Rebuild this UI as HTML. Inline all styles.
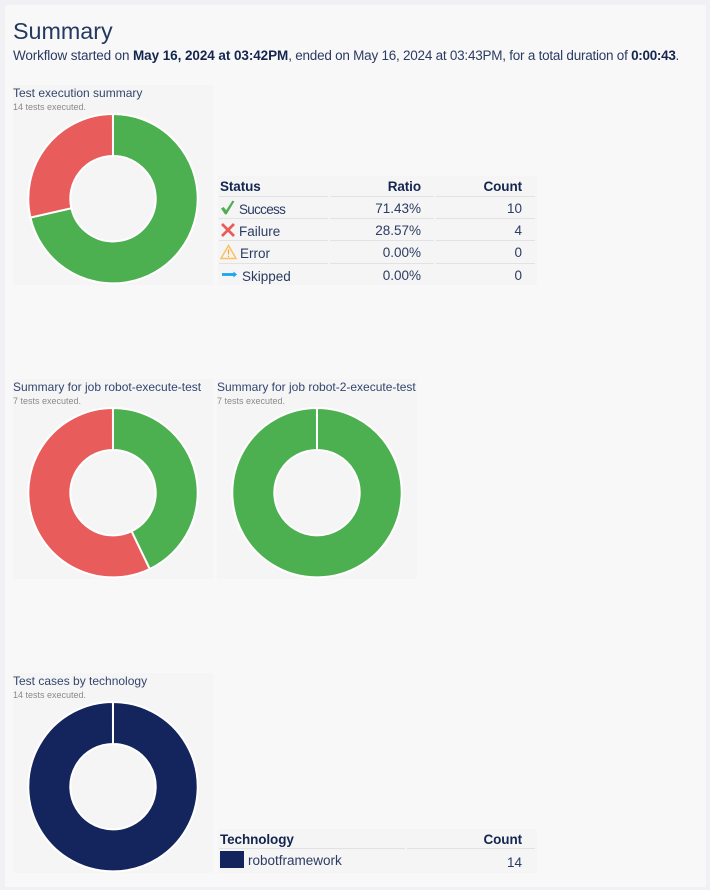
<!DOCTYPE html>
<html lang="en">
<head>
<meta charset="utf-8">
<title>Summary</title>
<style>
html,body{margin:0;padding:0;width:710px;height:890px;overflow:hidden;background:#f0f0f5;}
body{position:relative;font-family:"Liberation Sans",sans-serif;color:#1c2b52;}
#panel{position:absolute;left:5px;top:5px;width:701px;height:882px;background:#f8f8f8;}
.abs{position:absolute;white-space:nowrap;}
#heading{left:13px;top:16px;font-size:23.3px;line-height:30px;color:#24395f;}
#intro{left:13px;top:47px;font-size:13.5px;line-height:18px;letter-spacing:-.14px;color:#2b3b62;}
#intro b{color:#14264f;letter-spacing:-.07px;}
#intro span{letter-spacing:-.24px;}
#intro b.end{letter-spacing:-.3px;}
.card{position:absolute;width:200px;height:200px;background:#f5f5f5;}
.card-title{position:absolute;left:0;top:1px;font-size:12px;line-height:14px;color:#33466e;white-space:nowrap;}
.card-sub{position:absolute;left:0;top:17px;font-size:9px;line-height:11px;color:#8a8a8a;white-space:nowrap;}
.card svg{position:absolute;left:0;top:0;}
.tbl{position:absolute;left:218px;width:319px;background:#f5f5f5;}
.cell{position:absolute;white-space:nowrap;font-size:13.5px;line-height:16px;color:#2b3b62;}
.head{font-weight:bold;color:#14264f;letter-spacing:-.1px;}
.right{text-align:right;}
.rule{position:absolute;height:1px;background:#e2e2e2;}
</style>
</head>
<body>
<div id="panel"></div>
<div id="heading" class="abs">Summary</div>
<div id="intro" class="abs">Workflow started on <b>May 16, 2024 at 03:42PM</b><span>, ended on May 16, 2024 at 03:43PM, for a total duration of </span><b class="end">0:00:43</b>.</div>

<div class="card" id="card-total" style="left:13px;top:85px">
  <div class="card-title">Test execution summary</div>
  <div class="card-sub">14 tests executed.</div>
</div>
<div class="card" id="card-job1" style="left:13px;top:379px">
  <div class="card-title">Summary for job robot-execute-test</div>
  <div class="card-sub">7 tests executed.</div>
</div>
<div class="card" id="card-job2" style="left:217px;top:379px">
  <div class="card-title">Summary for job robot-2-execute-test</div>
  <div class="card-sub">7 tests executed.</div>
</div>
<div class="card" id="card-tech" style="left:13px;top:673px">
  <div class="card-title">Test cases by technology</div>
  <div class="card-sub">14 tests executed.</div>
</div>

<div class="tbl" id="status-table" style="top:176px;height:109px">
  <div class="cell head" style="left:2px;top:3px">Status</div>
  <div class="cell head right" style="left:120px;width:83px;top:3px">Ratio</div>
  <div class="cell head right" style="left:224px;width:80px;top:3px">Count</div>
  <div class="rule" style="left:1px;width:109px;top:20px"></div>
  <div class="rule" style="left:112px;width:104px;top:20px"></div>
  <div class="rule" style="left:218px;width:99px;top:20px"></div>

  <svg class="abs" style="left:2px;top:23px" width="16" height="18" viewBox="0 0 16 18"><path d="M1 9.5 L3.6 8 L6.2 11.2 L12.4 1.6 L14.4 2.4 L6.6 15.4 L5 15.4 Z" fill="#4caf50"/></svg>
  <svg class="abs" style="left:2px;top:46px" width="16" height="16" viewBox="0 0 16 16"><path d="M2 2 L14 14 M14 2 L2 14" fill="none" stroke="#e85c5c" stroke-width="2.7"/></svg>
  <svg class="abs" style="left:2px;top:68px" width="17" height="16" viewBox="0 0 17 16"><path d="M8.5 1.5 L16 14.5 H1 Z" fill="none" stroke="#fbc064" stroke-width="1.5"/><path d="M8.5 5.5 V10.5 M8.5 11.7 V13" stroke="#f5a623" stroke-width="1.2"/></svg>
  <svg class="abs" style="left:4px;top:94px" width="16" height="9" viewBox="0 0 16 9"><path d="M0 4.5 H12" stroke="#1aa7f0" stroke-width="2.8"/><path d="M11.5 1.5 L15 4.5 L11.5 7.5 Z" fill="#1aa7f0"/></svg>
</div>

<div class="tbl" id="tech-table" style="top:829px;height:44px">
  <div class="cell head" style="left:2px;top:3px">Technology</div>
  <div class="cell head right" style="left:224px;width:80px;top:3px">Count</div>
  <div class="rule" style="left:1px;width:186px;top:19px"></div>
  <div class="rule" style="left:189px;width:128px;top:19px"></div>
  <div class="abs" style="left:2px;top:22px;width:24px;height:17px;background:#14245c"></div>
</div>

<script>
const totalCounts = [10, 4];
const job1Counts = [3, 4];
const job2Counts = [7];
const techCounts = [14];
const statusColors = ['#4caf50', '#e85c5c'];
const techColors = ['#14245c'];
const statusLabels = ['Success', 'Failure', 'Error', 'Skipped'];
const statusCounts = [10, 4, 0, 0];
const statusRatios = ['71.43%', '28.57%', '0.00%', '0.00%'];
const techLabels = ['robotframework'];
const techTableCounts = [14];

const NS = 'http://www.w3.org/2000/svg';
const CX = 100, CY = 113.7, R_OUT = 84.7, R_IN = 42.7;

function angleOf(v, total) { return v / total * Math.PI * 2; }
function px(r, a) { return CX + r * Math.sin(a); }
function py(r, a) { return CY - r * Math.cos(a); }

function slicePath(a0, a1) {
  const large = (a1 - a0) > Math.PI ? 1 : 0;
  return 'M' + px(R_OUT, a0) + ' ' + py(R_OUT, a0) +
    ' A' + R_OUT + ' ' + R_OUT + ' 0 ' + large + ' 1 ' + px(R_OUT, a1) + ' ' + py(R_OUT, a1) +
    ' L' + px(R_IN, a1) + ' ' + py(R_IN, a1) +
    ' A' + R_IN + ' ' + R_IN + ' 0 ' + large + ' 0 ' + px(R_IN, a0) + ' ' + py(R_IN, a0) + ' Z';
}

function drawDonut(cardId, values, colors) {
  const svg = document.createElementNS(NS, 'svg');
  svg.setAttribute('width', '200');
  svg.setAttribute('height', '200');
  
  
  const total = values.reduce(function (s, v) { return s + v; }, 0);
  let acc = 0;
  values.forEach(function (v, i) {
    if (v <= 0) return;
    const a0 = angleOf(acc, total);
    acc += v;
    const a1 = Math.min(angleOf(acc, total), Math.PI * 2 - 0.0005);
    const p = document.createElementNS(NS, 'path');
    p.setAttribute('d', slicePath(a0, a1));
    p.setAttribute('fill', colors[i]);
    p.setAttribute('stroke', '#ffffff');
    p.setAttribute('stroke-width', '2');
    
    
    svg.appendChild(p);
  });
  document.getElementById(cardId).appendChild(svg);
}

function addCell(table, text, css, cls) {
  const d = document.createElement('div');
  d.className = 'cell ' + (cls || '');
  d.style.cssText = css;
  d.textContent = text;
  table.appendChild(d);
  return d;
}

drawDonut('card-total', totalCounts, statusColors);
drawDonut('card-job1', job1Counts, statusColors);
drawDonut('card-job2', job2Counts, statusColors);
drawDonut('card-tech', techCounts, techColors);

const statusTable = document.getElementById('status-table');
const labelLeft = [21, 21, 22, 24];
const rowTop = [26, 48, 70, 93];
const valueTop = [25, 47, 69, 92];
statusLabels.forEach(function (label, i) {
  const a = addCell(statusTable, label, 'left:' + labelLeft[i] + 'px;top:' + rowTop[i] + 'px' + (i === 0 ? ';letter-spacing:-.7px' : ''));
  
  
  const b = addCell(statusTable, statusRatios[i], 'left:120px;width:83px;top:' + valueTop[i] + 'px', 'right');
  
  
  const c = addCell(statusTable, String(statusCounts[i]), 'left:224px;width:80px;top:' + valueTop[i] + 'px', 'right');
  
  
  if (i < statusLabels.length - 1) {
    [[1, 109], [112, 104], [218, 99]].forEach(function (seg) {
      const r = document.createElement('div');
      r.className = 'rule';
      r.style.cssText = 'left:' + seg[0] + 'px;width:' + seg[1] + 'px;top:' + [42, 64, 87][i] + 'px';
      
      
      statusTable.appendChild(r);
    });
  }
});

const techTable = document.getElementById('tech-table');
techLabels.forEach(function (label, i) {
  const a = addCell(techTable, label, 'left:30px;top:24px');
  
  
  const b = addCell(techTable, String(techTableCounts[i]), 'left:224px;width:80px;top:26px', 'right');
  
  
});
</script>
</body>
</html>
